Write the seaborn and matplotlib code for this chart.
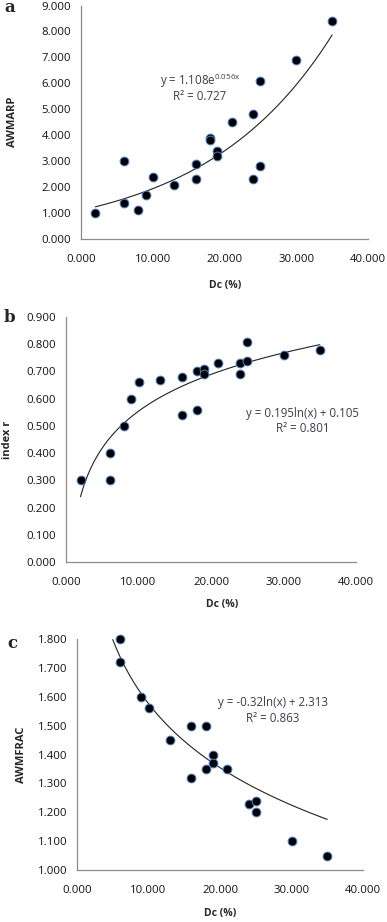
import numpy as np
import pandas as pd
import matplotlib
matplotlib.use("Agg")
import matplotlib.pyplot as plt
import seaborn as sns

# panel a - AWMARP vs Dc
dc_a = [2, 6, 6, 8, 9, 10, 13, 16, 16, 18, 18, 19, 19, 21, 24, 24, 25, 25, 30, 35]
awmarp = [1.0, 3.0, 1.4, 1.1, 1.7, 2.4, 2.1, 2.9, 2.3, 3.9, 3.8, 3.4, 3.2, 4.5, 4.8, 2.3, 6.1, 2.8, 6.9, 8.4]

# panel b - index r vs Dc
dc_b = [2, 6, 6, 8, 9, 10, 13, 16, 16, 18, 18, 19, 19, 21, 24, 24, 25, 25, 30, 35]
index_r = [0.30, 0.40, 0.30, 0.50, 0.60, 0.66, 0.67, 0.68, 0.54, 0.70, 0.56, 0.71, 0.69, 0.73, 0.73, 0.69, 0.81, 0.74, 0.76, 0.78]

# panel c - AWMFRAC vs Dc
dc_c = [6, 6, 9, 10, 13, 16, 16, 18, 18, 19, 19, 21, 24, 25, 25, 30, 35]
awmfrac = [1.80, 1.72, 1.60, 1.56, 1.45, 1.50, 1.32, 1.50, 1.35, 1.40, 1.37, 1.35, 1.23, 1.24, 1.20, 1.10, 1.05]

# trendline coefficients as printed on the chart
fit_a = (1.108, 0.056)     # y = a*exp(b*x)
fit_b = (0.195, 0.105)     # y = a*ln(x) + b
fit_c = (-0.32, 2.313)

sns.set_theme(style="white")
plt.rcParams['font.family'] = ['Open Sans', 'DejaVu Sans']
plt.rcParams['mathtext.default'] = 'regular'

W, H = 387, 922
fig = plt.figure(figsize=(W / 100, H / 100), dpi=100)


def px_axes(left, top, right, bottom):
    return fig.add_axes([left / W, 1 - bottom / H, (right - left) / W, (bottom - top) / H])


def style_axes(ax, ylim, ystep):
    ax.set_xlim(0, 40)
    ax.set_ylim(*ylim)
    ax.set_xticks(np.arange(0, 40.1, 10))
    ax.set_yticks(np.arange(ylim[0], ylim[1] + ystep / 2, ystep))
    ax.xaxis.set_major_formatter(matplotlib.ticker.FormatStrFormatter('%.3f'))
    ax.yaxis.set_major_formatter(matplotlib.ticker.FormatStrFormatter('%.3f'))
    for s in ['top', 'right']:
        ax.spines[s].set_visible(False)
    for s in ['left', 'bottom']:
        ax.spines[s].set_color('#8c8c8c')
        ax.spines[s].set_linewidth(0.9)
    ax.tick_params(axis='both', direction='out', length=3, width=0.8, color='#8c8c8c',
                   labelsize=8.2, labelcolor='#111111', pad=4)
    ax.tick_params(axis='x', pad=8)
    ax.set_xlabel('')
    ax.set_ylabel('')


def draw_points(ax, x, y):
    df = pd.DataFrame({'x': x, 'y': y})
    sns.scatterplot(data=df, x='x', y='y', ax=ax, s=40, color='black',
                    edgecolor='#4f7fc0', linewidth=0.7, zorder=3, clip_on=False)


eq_color = '#3c3c4c'
eq_size = 8.3

# ---- panel a
ax_a = px_axes(81, 5.5, 368, 239)
draw_points(ax_a, dc_a, awmarp)
xa = np.linspace(min(dc_a), max(dc_a), 200)
ax_a.plot(xa, fit_a[0] * np.exp(fit_a[1] * xa), color='#222222', lw=0.8, zorder=2)
style_axes(ax_a, (0, 9), 1)
ax_a.text(0.415, 0.677, r'y = 1.108e$^{0.056x}$', transform=ax_a.transAxes,
          ha='center', va='center', fontsize=eq_size, color=eq_color)
ax_a.text(0.415, 0.612, 'R² = 0.727', transform=ax_a.transAxes,
          ha='center', va='center', fontsize=eq_size, color=eq_color)

# ---- panel b
ax_b = px_axes(66, 317, 356, 562)
draw_points(ax_b, dc_b, index_r)
xb = np.linspace(min(dc_b), max(dc_b), 200)
ax_b.plot(xb, fit_b[0] * np.log(xb) + fit_b[1], color='#222222', lw=0.8, zorder=2)
style_axes(ax_b, (0, 0.9), 0.1)
ax_b.text(0.817, 0.605, 'y = 0.195ln(x) + 0.105', transform=ax_b.transAxes,
          ha='center', va='center', fontsize=eq_size, color=eq_color)
ax_b.text(0.817, 0.545, 'R² = 0.801', transform=ax_b.transAxes,
          ha='center', va='center', fontsize=eq_size, color=eq_color)

# ---- panel c
ax_c = px_axes(77, 639, 363, 870)
draw_points(ax_c, dc_c, awmfrac)
xc = np.linspace(5, max(dc_c), 200)
ax_c.plot(xc, fit_c[0] * np.log(xc) + fit_c[1], color='#222222', lw=0.8, zorder=2)
style_axes(ax_c, (1.0, 1.8), 0.1)
ax_c.text(0.685, 0.727, 'y = -0.32ln(x) + 2.313', transform=ax_c.transAxes,
          ha='center', va='center', fontsize=eq_size, color=eq_color)
ax_c.text(0.685, 0.658, 'R² = 0.863', transform=ax_c.transAxes,
          ha='center', va='center', fontsize=eq_size, color=eq_color)

# panel letters
for lbl, xp, yp in [('a', 4, 8), ('b', 4, 318), ('c', 7, 643)]:
    fig.text(xp / W, 1 - yp / H, lbl, fontsize=12, fontweight='bold',
             family='DejaVu Serif', ha='left', va='center')

# axis titles
for lbl, xp, yp in [('AWMARP', 13, 122), ('index r', 8, 440), ('AWMFRAC', 22, 755)]:
    fig.text(xp / W, 1 - yp / H, lbl, fontsize=8, fontweight='bold',
             rotation=90, ha='center', va='center')
for xp, yp in [(225, 285), (222, 605), (220, 913)]:
    fig.text(xp / W, 1 - yp / H, 'Dc (%)', fontsize=7.5, fontweight='bold',
             ha='center', va='center')

fig.savefig('out.png', dpi=100)
